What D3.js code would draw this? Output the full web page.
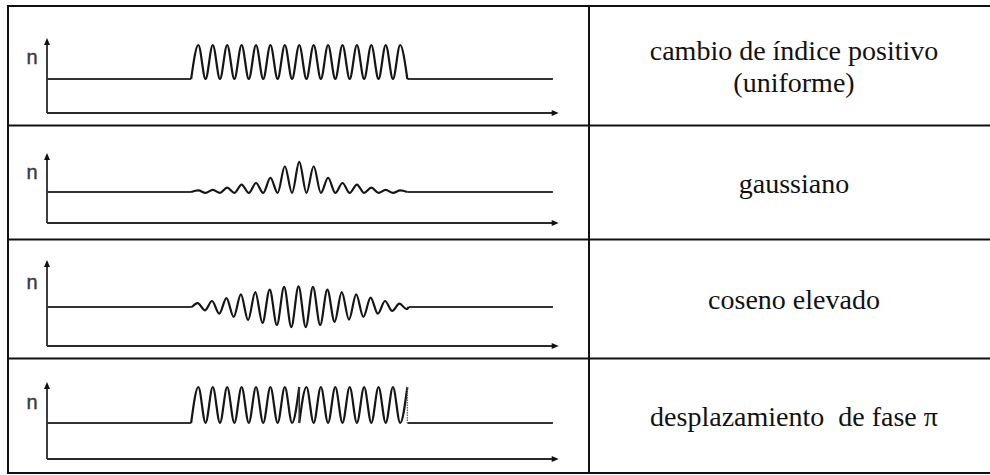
<!DOCTYPE html>
<html>
<head>
<meta charset="utf-8">
<script src="https://cdn.jsdelivr.net/npm/d3@7"></script>
<style>
  html, body { margin: 0; padding: 0; background: #fff; }
  svg { display: block; }
</style>
</head>
<body>
<svg id="chart" width="990" height="475"></svg>
<script>
// ---------------- DATA ----------------
// Row labels (right column)
const rowLabels = [
  ["cambio de índice positivo", "(uniforme)"],
  ["gaussiano"],
  ["coseno elevado"],
  ["desplazamiento\u00A0 de fase π"]
];
const axisLabel = "n";

// Fibre extent (position units) and grating extent
const fibreExtent = [0, 35.1];
const axisEnd = 35.5;
const gratingExtent = [10, 25];

// Normalised index change at successive extrema (half-period nodes)
// 1) uniform: 15 periods, troughs at baseline
const uniformDn = [0,1,0,1,0,1,0,1,0,1,0,1,0,1,0,1,0,1,0,1,0,1,0,1,0,1,0,1,0,1,0];
// 2) gaussian apodised
const gaussDn = [0,.05,-.03,.07,-.03,.14,-.03,.24,-.03,.29,-.03,.46,-.03,.83,-.03,.97,-.03,.83,-.03,.46,-.03,.29,-.03,.24,-.03,.14,-.03,.07,-.03,.05,0];
// 3) raised-cosine apodised (zero-mean)
const cosineDn = [0,.19,-.16,.29,-.32,.43,-.48,.61,-.63,.72,-.77,.84,-.87,.97,-.97,1,-.97,.97,-.87,.84,-.72,.72,-.61,.61,-.48,.45,-.32,.29,-.19,.16,-.1,0];
// 4) pi phase shift: two halves
const phaseFirstDn  = [0,1,0,1,0,1,0,1,0,1,0,1,0,1,0,1];
const phaseSecondDn = [0,1,0,1,0,1,0,1,0,1,0,1,0,1,0,1];

// ---------------- LAYOUT ----------------
const W = 990, H = 475;
const tableLeft = 8, tableRight = 1000, colSplit = 589;
const rowLines = [6, 125.5, 239.5, 358.5, 473];
const rowsLayout = [
  { arrowTop: 38,  nY: 64,  baseY: 79,  axisY: 113, amp: 34 },
  { arrowTop: 153, nY: 179, baseY: 192, axisY: 223, amp: 31 },
  { arrowTop: 260, nY: 289, baseY: 307, axisY: 346, amp: 20.7 },
  { arrowTop: 382, nY: 409, baseY: 423, axisY: 459, amp: 36 }
];

const svg = d3.select("#chart");
const x = d3.scaleLinear().domain([0, 35]).range([47, 551.5]);

// node positions for each profile
const halfStep = 0.5;
const nodesFrom = (start, vals) => vals.map((v, i) => ({ z: start + i * halfStep, v }));
const cosineNodes = cosineDn.map((v, i) => {
  let z;
  if (i === 0) z = gratingExtent[0] + 0.05;
  else if (i === cosineDn.length - 1) z = gratingExtent[1] + 0.1;
  else z = 10.45 + (i - 1) * halfStep;
  return { z, v };
});

const profiles = [
  [nodesFrom(gratingExtent[0], uniformDn)],
  [nodesFrom(gratingExtent[0], gaussDn)],
  [cosineNodes],
  [nodesFrom(gratingExtent[0], phaseFirstDn), nodesFrom(17.5, phaseSecondDn)]
];

const ink = "#151515";

rowsLayout.forEach((r, ri) => {
  const g = svg.append("g");
  const y = d3.scaleLinear().domain([0, 1]).range([r.baseY, r.baseY - r.amp]);

  // y axis with arrow
  g.append("line")
    .attr("x1", x(0)).attr("x2", x(0))
    .attr("y1", r.axisY).attr("y2", r.arrowTop + 4)
    .attr("stroke", "#2a2a2a").attr("stroke-width", 1.8);
  g.append("path")
    .attr("d", `M${x(0)-3},${r.arrowTop+7} L${x(0)},${r.arrowTop} L${x(0)+3},${r.arrowTop+7} Z`)
    .attr("fill", "#111");
  // x axis with arrow
  g.append("line")
    .attr("x1", x(0)).attr("x2", x(axisEnd) - 5)
    .attr("y1", r.axisY).attr("y2", r.axisY)
    .attr("stroke", "#2a2a2a").attr("stroke-width", 1.8);
  g.append("path")
    .attr("d", `M${x(axisEnd)-7},${r.axisY-3} L${x(axisEnd)},${r.axisY} L${x(axisEnd)-7},${r.axisY+3} Z`)
    .attr("fill", "#111");

  // n label
  g.append("text")
    .attr("x", 26.5).attr("y", r.nY)
    .attr("font-family", "Liberation Sans, Arial, sans-serif")
    .attr("font-size", 20)
    .attr("fill", "#3a3a3a")
    .attr("stroke", "#3a3a3a").attr("stroke-width", 0.4)
    .text(axisLabel);

  // baseline flats
  const segs = profiles[ri];
  const first = segs[0][0], lastSeg = segs[segs.length - 1], last = lastSeg[lastSeg.length - 1];
  g.append("line")
    .attr("x1", x(fibreExtent[0])).attr("x2", x(first.z))
    .attr("y1", y(0)).attr("y2", y(0))
    .attr("stroke", "#333").attr("stroke-width", 2);
  g.append("line")
    .attr("x1", x(last.z)).attr("x2", x(fibreExtent[1]))
    .attr("y1", y(0)).attr("y2", y(0))
    .attr("stroke", "#333").attr("stroke-width", 2);

  // grating curve(s)
  const line = d3.line().x(d => x(d.z)).y(d => y(d.v)).curve(d3.curveMonotoneX);
  segs.forEach(s => {
    g.append("path").attr("d", line(s))
      .attr("fill", "none").attr("stroke", ink).attr("stroke-width", 2.2)
      .attr("stroke-linejoin", "round");
  });

  // discontinuities for phase shifted grating
  if (segs.length > 1) {
    const a = segs[0][segs[0].length - 1], b = segs[1][0];
    g.append("line")
      .attr("x1", x(a.z)).attr("x2", x(b.z))
      .attr("y1", y(a.v)).attr("y2", y(b.v))
      .attr("stroke", "#333").attr("stroke-width", 1.6);
  }
  if (last.v !== 0) {
    g.append("line")
      .attr("x1", x(last.z)).attr("x2", x(last.z))
      .attr("y1", y(last.v)).attr("y2", y(0))
      .attr("stroke", "#666").attr("stroke-width", 1.4)
      .attr("stroke-dasharray", "1.5,1");
  }

  // label text
  const top = rowLines[ri], bottom = rowLines[ri + 1];
  const cy = (top + bottom) / 2;
  const lines = rowLabels[ri];
  const lh = 32;
  const t = svg.append("text")
    .attr("font-family", "Liberation Serif, 'Times New Roman', serif")
    .attr("font-size", 28)
    .attr("fill", "#111")
    .attr("text-anchor", "middle");
  lines.forEach((s, i) => {
    t.append("tspan")
      .attr("x", 794)
      .attr("y", cy + 10 + (i - (lines.length - 1) / 2) * lh)
      .text(s);
  });
});

// table grid
const grid = svg.append("g").attr("stroke", "#111").attr("stroke-width", 2);
rowLines.forEach(yv => {
  grid.append("line").attr("x1", tableLeft).attr("x2", tableRight)
    .attr("y1", yv).attr("y2", yv);
});
[tableLeft, colSplit].forEach(xv => {
  grid.append("line").attr("x1", xv).attr("x2", xv)
    .attr("y1", rowLines[0] - 1).attr("y2", rowLines[rowLines.length - 1] + 1);
});
</script>
</body>
</html>
